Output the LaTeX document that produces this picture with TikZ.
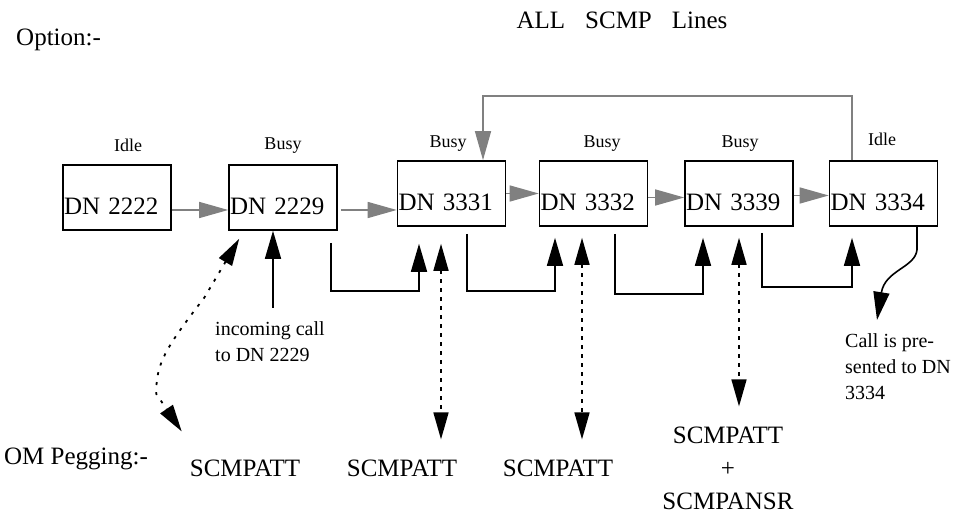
\documentclass[tikz,border=0pt]{standalone}
\usepackage{fontspec}
\setmainfont{Liberation Serif}
\usetikzlibrary{arrows.meta, positioning, calc}

\begin{document}
\begin{tikzpicture}[
    x=1pt, y=1pt,
    line/.style ={draw, line width=1.6pt, minimum width=108pt, minimum height=65pt,
                  text width=106pt, inner xsep=1pt, align=left,
                  text height=34pt, text depth=0pt,
                  font=\fontsize{25}{30}\selectfont},
    state/.style={font=\fontsize{18}{20}\selectfont, inner sep=0pt,
                  text height=12pt, text depth=0pt},
    big/.style  ={font=\fontsize{25}{33}\selectfont, inner sep=0pt, align=center},
    note/.style ={font=\fontsize{20}{26}\selectfont, inner sep=0pt, align=left},
    hunt/.style ={-{Triangle[length=29pt, width=16pt]}, gray, line width=1.4pt},
    link/.style ={-{Triangle[length=28pt, width=16pt]}, line width=1.6pt},
    peg/.style  ={{Triangle[length=27pt, width=15pt]}-{Triangle[length=27pt, width=15pt]},
                  line width=1.6pt, dash pattern=on 4pt off 5pt},
]
\useasboundingbox (0,0) rectangle (965,521);
% headings
\node[big, anchor=west] (opt) at (16,481) {Option:-};
\node[big] (title) at (622,501) {ALL\hspace{20pt}SCMP\hspace{20pt}Lines};
% the six lines
\node[line] (d2222) at (117,323.5) {DN 2222};
\node[line] (d2229) at (283,323.5) {DN 2229};
\node[line] (d3331) at (451.5,327.5) {DN 3331};
\node[line] (d3332) at (593.5,327.5) {DN 3332};
\node[line] (d3339) at (739,327.5) {DN 3339};
\node[line] (d3334) at (883.5,327.5) {DN 3334};
% line states
\node[state, above=12pt of d2222, xshift=11pt]  (s2222) {Idle};
\node[state, above=14pt of d2229]               (s2229) {Busy};
\node[state, above=12pt of d3331, xshift=-3.5pt] (s3331) {Busy};
\node[state, above=12pt of d3332, xshift=8.5pt]  (s3332) {Busy};
\node[state, above=12pt of d3339, xshift=1pt]    (s3339) {Busy};
\node[state, above=14pt of d3334, xshift=-1.5pt] (s3334) {Idle};
% hunting order
\draw[hunt] ([yshift=-12.5pt]d2222.east) -- ([yshift=-12.5pt]d2229.west);
\draw[hunt] ([xshift=3pt, yshift=-12.5pt]d2229.east) -- ([yshift=-16.5pt]d3331.west);
\draw[hunt] (d3331.east) -- (d3332.west);
\draw[hunt] ([yshift=-4pt]d3332.east) -- ([yshift=-4pt]d3339.west);
\draw[hunt] ([yshift=-2pt]d3339.east) -- ([yshift=-2pt]d3334.west);
\draw[hunt] ([xshift=-31.5pt]d3334.north) -- ++(0,64) -| ([xshift=31.5pt]d3331.north);
% overflow to the next line
\draw[link] ([xshift=48pt, yshift=-12pt]d2229.south) -- ++(0,-48)
    -| ([xshift=-32.5pt, yshift=-17pt]d3331.south);
\draw[link] ([xshift=15.5pt, yshift=-7pt]d3331.south) -- ++(0,-57)
    -| ([xshift=-38.5pt, yshift=-11pt]d3332.south);
\draw[link] ([xshift=21.5pt, yshift=-7pt]d3332.south) -- ++(0,-60)
    -| ([xshift=-36pt, yshift=-11pt]d3339.south);
\draw[link] ([xshift=23pt, yshift=-6pt]d3339.south) -- ++(0,-54)
    -| ([xshift=-31.5pt, yshift=-11pt]d3334.south);
% incoming call
\node[note, anchor=north west] (incall) at (215,200) {incoming call\\to DN 2229};
\draw[link] ($(d2229.south |- incall.north) + (-10,13)$) -- ([xshift=-10pt]d2229.south);
% OM pegging
\node[big, anchor=west] (om) at (4,62) {OM Pegging:-};
\node[big] (p1) at (245,53) {SCMPATT};
\node[big] (p2) at (402,53) {SCMPATT};
\node[big] (p3) at (558,53) {SCMPATT};
\node[big] (p4) at (728,53) {SCMPATT\\+\\SCMPANSR};
\draw[peg, line width=1.8pt, dash pattern=on 3pt off 7pt]
    ([xshift=11pt, yshift=-8pt]d2229.south west) -- ++(-35,-59)
    .. controls +(-40,-52) and +(0,30) .. ++(-48,-96)
    -- ([xshift=-8pt, yshift=28pt]p1.north west);
\draw[peg] ([xshift=-10.5pt, yshift=-17pt]d3331.south)
    -- ($(d3331.south |- p2.north) + (-10.5,20)$);
\draw[peg] ([xshift=-11.5pt, yshift=-11pt]d3332.south)
    -- ($(d3332.south |- p3.north) + (-11.5,20)$);
\draw[peg] ([yshift=-11pt]d3339.south)
    -- ($(d3339.south |- p4.north) + (0,20)$);
% call presented
\node[note, anchor=north west] (callp) at (845,188) {Call is pre-\\sented to DN\\3334};
\draw[link] ([xshift=33.5pt]d3334.south) -- ++(0,-23)
    .. controls +(-2,-18) and +(8,50) .. ([xshift=32pt, yshift=13pt]callp.north west);
\end{tikzpicture}
\end{document}
